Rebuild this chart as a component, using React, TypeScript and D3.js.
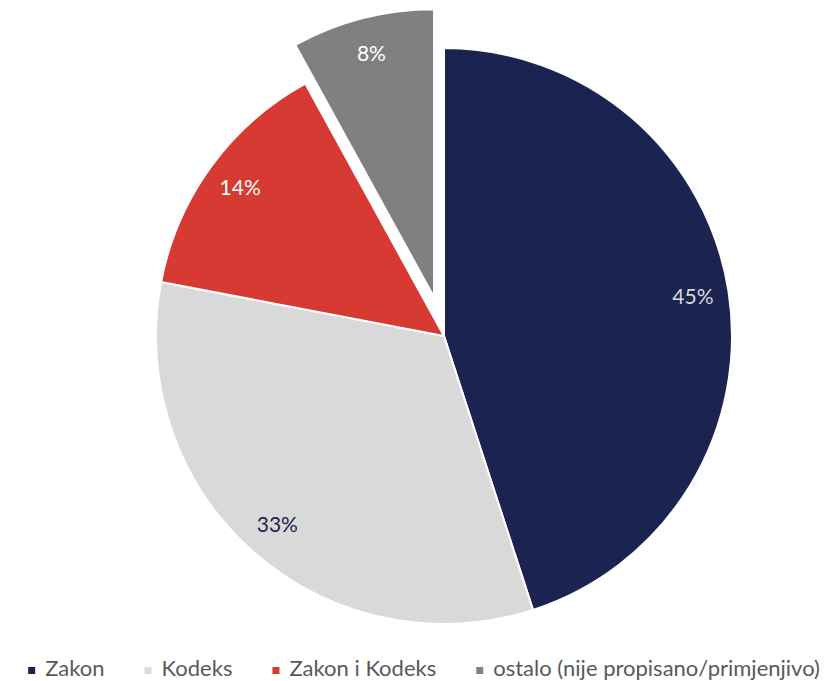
import React, { useEffect, useRef } from 'react';
import * as d3 from 'd3';

const categories = ['Zakon', 'Kodeks', 'Zakon i Kodeks', 'ostalo (nije propisano/primjenjivo)'];
const shares = [45, 33, 14, 8];
const labels = ['45%', '33%', '14%', '8%'];
const sliceColors = ['#1b2350', '#d9d9d9', '#d63a33', '#808080'];
const labelColors = ['#d9d9d9', '#1b2350', '#ffffff', '#ffffff'];
const exploded = [0, 0, 0, 40];

const WIDTH = 834;
const HEIGHT = 681;
const FONT = 'Lato, "Noto Sans", sans-serif';

const App = () => {
  const svgRef = useRef<SVGSVGElement>(null);

  useEffect(() => {
    const svg = d3.select(svgRef.current);
    svg.selectAll('*').remove();

    const cx = 444;
    const cy = 336;
    const radius = 288;

    const data = categories.map((name, i) => ({ name, value: shares[i], i }));

    const pie = d3.pie<any>().value(d => d.value).sort(null);
    const arc = d3.arc<any>().innerRadius(0).outerRadius(radius);
    const labelArc = d3.arc<any>().innerRadius(252).outerRadius(252);

    const g = svg.append('g').attr('transform', `translate(${cx},${cy})`);

    const slices = g.selectAll('.slice')
      .data(pie(data))
      .enter()
      .append('g')
      .attr('class', 'slice')
      .attr('transform', d => {
        const off = exploded[d.data.i];
        const mid = (d.startAngle + d.endAngle) / 2;
        return `translate(${off * Math.sin(mid)},${-off * Math.cos(mid)})`;
      });

    slices.append('path')
      .attr('d', arc)
      .attr('fill', d => sliceColors[d.data.i])
      .attr('stroke', '#ffffff')
      .attr('stroke-width', 2)
      .attr('stroke-linejoin', 'round');

    slices.append('text')
      .attr('transform', d => `translate(${labelArc.centroid(d)})`)
      .attr('text-anchor', 'middle')
      .attr('dy', '0.35em')
      .attr('fill', d => labelColors[d.data.i])
      .style('font-family', FONT)
      .style('font-size', '21px')
      .text(d => labels[d.data.i]);

    // legenda
    const legend = svg.append('g').attr('transform', `translate(0, 676)`);
    const items = legend.selectAll('.item')
      .data(data)
      .enter()
      .append('g')
      .attr('class', 'item');

    items.append('rect')
      .attr('y', -9)
      .attr('width', 7)
      .attr('height', 7)
      .attr('fill', d => sliceColors[d.i]);

    items.append('text')
      .attr('x', 17)
      .attr('fill', '#595959')
      .style('font-family', FONT)
      .style('font-size', '22px')
      .text(d => d.name);

    const widths: number[] = [];
    items.selectAll('text').each(function () {
      widths.push((this as SVGTextElement).getComputedTextLength() + 17);
    });
    const gap = 40;
    const total = d3.sum(widths) + gap * (widths.length - 1);
    let x = 424 - total / 2;
    items.attr('transform', (d, i) => {
      const pos = x;
      x += widths[i] + gap;
      return `translate(${pos},0)`;
    });
  }, []);

  return (
    <div style={{ position: 'absolute', left: 0, top: 0, width: WIDTH, height: HEIGHT }}>
      <svg ref={svgRef} width={WIDTH} height={HEIGHT} style={{ display: 'block', background: '#ffffff' }} />
    </div>
  );
};

export default App;
